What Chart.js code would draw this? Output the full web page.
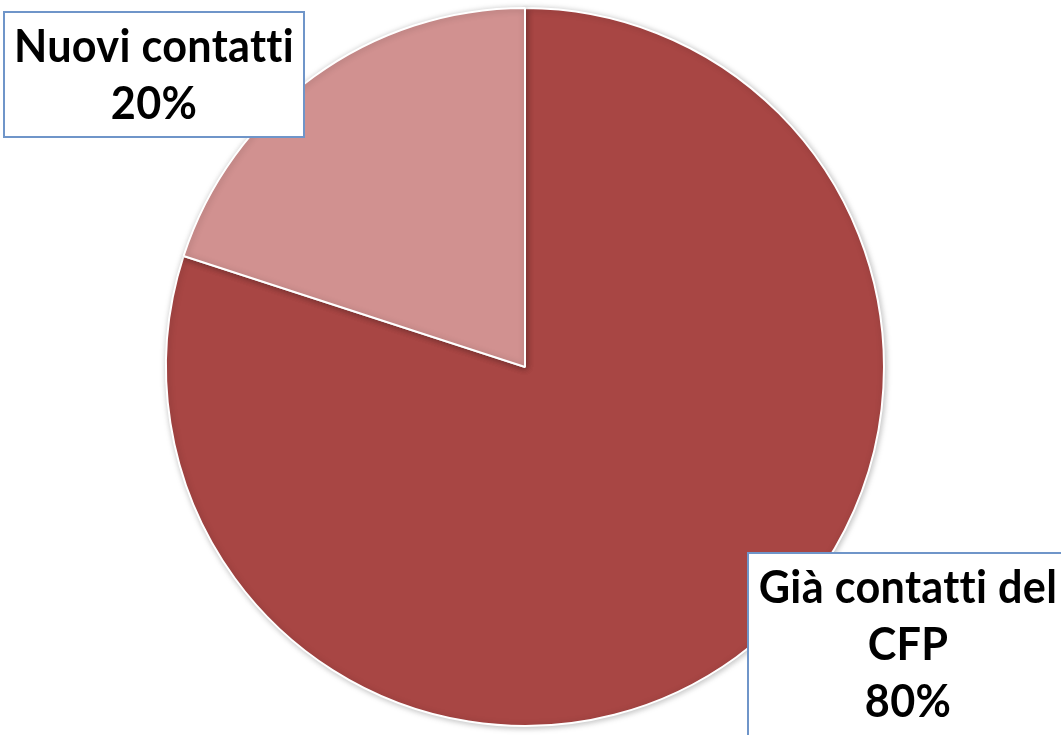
<!DOCTYPE html>
<html>
<head>
<meta charset="utf-8">
<script src="https://cdn.jsdelivr.net/npm/chart.js@4/dist/chart.umd.min.js"></script>
<style>
html,body{margin:0;padding:0;background:#fff;}
#wrap{width:1061px;height:735px;position:relative;}
canvas{font-variant-ligatures:none;}
</style>
</head>
<body>
<div id="wrap"><canvas id="c" width="1061" height="735"></canvas></div>
<script>
const categories = ["Già contatti del CFP", "Nuovi contatti"];
const values = [80, 20];
const labelLines = [["Già contatti del", "CFP", "80%"], ["Nuovi contatti", "20%"]];
const colors = ["#A84644", "#D19190"];

const boxes = [
  {x: 748, y: 553, w: 330, h: 200, cx: 908, base: 603},
  {x: 4, y: 12, w: 300, h: 125, cx: 154, base: 62}
];

const labelPlugin = {
  id: 'boxLabels',
  afterDraw(chart) {
    const ctx = chart.ctx;
    ctx.save();
    if ('textRendering' in ctx) ctx.textRendering = 'optimizeSpeed';
    if ('letterSpacing' in ctx) ctx.letterSpacing = '0.3px';
    let size = 44;
    ctx.font = `bold ${size}px Lato`;
    const w = ctx.measureText("Nuovi contatti").width;
    size = size * 280 / w;
    const font = `bold ${size}px Lato`;
    boxes.forEach((b, i) => {
      ctx.fillStyle = '#ffffff';
      ctx.fillRect(b.x, b.y, b.w, b.h);
      ctx.strokeStyle = '#6F95C9';
      ctx.lineWidth = 2;
      ctx.strokeRect(b.x, b.y, b.w, b.h);
      ctx.fillStyle = '#000';
      ctx.font = font;
      ctx.textAlign = 'center';
      ctx.textBaseline = 'alphabetic';
      labelLines[i].forEach((t, k) => {
        ctx.save();
        ctx.translate(b.cx, b.base + k * 57);
        ctx.scale(1, 1.06);
        ctx.fillText(t, 0, 0);
        ctx.restore();
      });
    });
    ctx.restore();
  }
};

const shadowPlugin = {
  id: 'shadow',
  beforeDatasetsDraw(chart) {
    const ctx = chart.ctx;
    ctx.save();
    ctx.shadowColor = 'rgba(0,0,0,0.25)';
    ctx.shadowBlur = 6;
    ctx.shadowOffsetX = 1;
    ctx.shadowOffsetY = 1;
  },
  afterDatasetsDraw(chart) {
    chart.ctx.restore();
  }
};

new Chart(document.getElementById('c'), {
  type: 'pie',
  data: {
    labels: categories,
    datasets: [{
      data: values,
      backgroundColor: colors,
      borderColor: '#ffffff',
      borderWidth: 2
    }]
  },
  options: {
    responsive: false,
    animation: false,
    layout: {padding: {top: 7, bottom: 8, left: 0, right: 11}},
    plugins: {legend: {display: false}, tooltip: {enabled: false}}
  },
  plugins: [shadowPlugin, labelPlugin]
});
</script>
</body>
</html>
